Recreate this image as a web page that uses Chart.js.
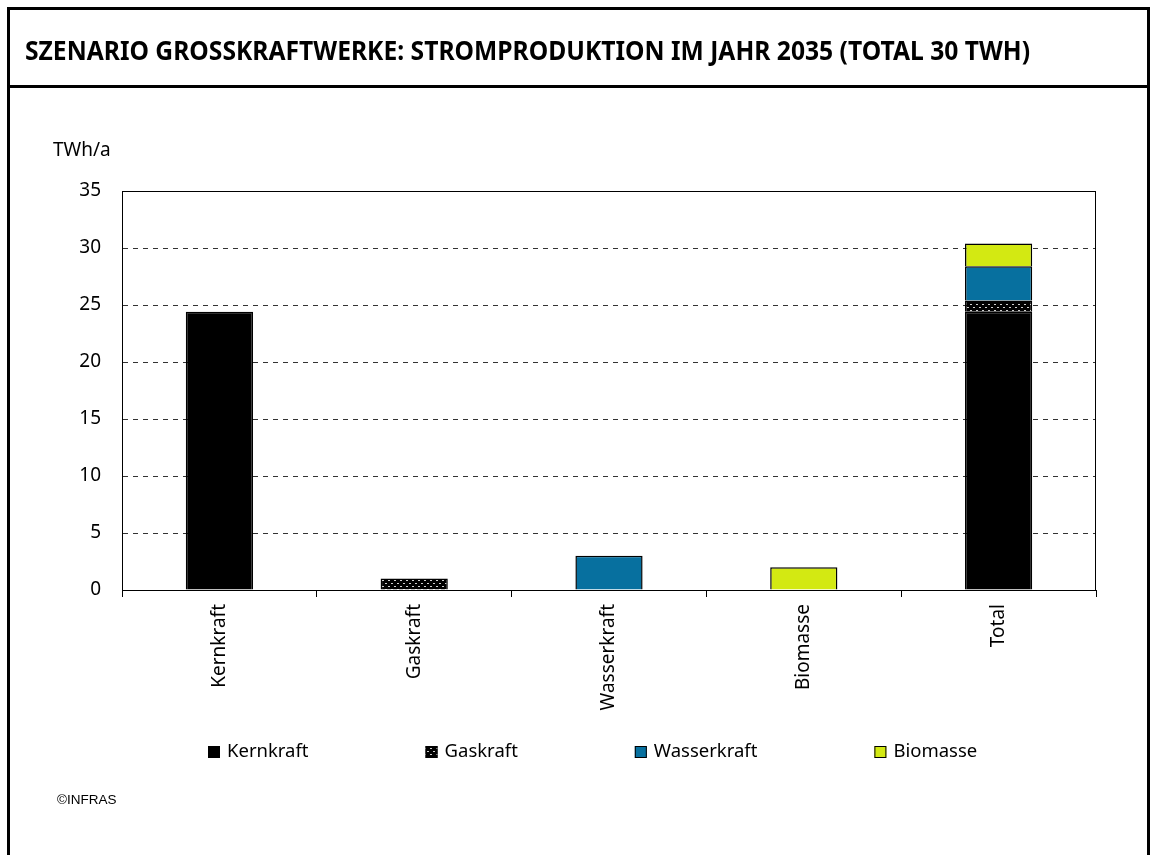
<!DOCTYPE html>
<html><head><meta charset="utf-8">
<script src="https://cdn.jsdelivr.net/npm/chart.js@4"></script>
<style>
html,body{margin:0;padding:0;background:#fff;}
body{width:1153px;height:855px;position:relative;overflow:hidden;font-family:"Noto Sans",sans-serif;}
#c{position:absolute;left:0;top:0;}
#frame{position:absolute;left:7px;top:7px;width:1137px;height:860px;border:3px solid #000;pointer-events:none;}
#divider{position:absolute;left:7px;top:85px;width:1143px;height:3px;background:#000;}
#title{position:absolute;left:25px;top:35px;font:bold 26px/30px "Noto Sans",sans-serif;white-space:nowrap;transform-origin:0 50%;display:inline-block;color:#000;}
#unit{position:absolute;left:53px;top:137px;font:19px/24px "Noto Sans",sans-serif;color:#000;}
#copy{position:absolute;left:57px;top:792px;font:13.5px/16px "Liberation Sans",Arial,sans-serif;color:#000;}
</style></head>
<body>
<canvas id="c" width="1153" height="855"></canvas>
<div id="frame"></div>
<div id="divider"></div>
<div id="title">SZENARIO GROSSKRAFTWERKE: STROMPRODUKTION IM JAHR 2035 (TOTAL 30 TWH)</div>
<div id="unit">TWh/a</div>
<div id="copy">©INFRAS</div>
<script>
const categories = ['Kernkraft', 'Gaskraft', 'Wasserkraft', 'Biomasse', 'Total'];
const seriesNames = ['Kernkraft', 'Gaskraft', 'Wasserkraft', 'Biomasse'];
const kernkraft   = [24.4, null, null, null, 24.4];
const gaskraft    = [null, 1.0, null, null, 1.0];
const wasserkraft = [null, null, 3.0, null, 3.0];
const biomasse    = [null, null, null, 2.0, 2.0];
const yMin = 0, yMax = 35, yStep = 5;

// fit title width
(function(){
  const t = document.getElementById('title');
  const w = t.getBoundingClientRect().width;
  t.style.transform = 'scaleX(' + (1005 / w) + ')';
})();

function gasPattern(){
  const c = document.createElement('canvas'); c.width = 6; c.height = 6;
  const g = c.getContext('2d');
  g.fillStyle = '#000'; g.fillRect(0,0,6,6);
  g.fillStyle = '#d0d0d0';
  g.fillRect(1,1,2,1); g.fillRect(4,4,2,1);
  return g.createPattern(c, 'repeat');
}

Chart.defaults.font.family = '"Noto Sans", sans-serif';
Chart.defaults.font.size = 19;
Chart.defaults.color = '#000';

const framePlugin = {
  id: 'frame',
  beforeDatasetsDraw(chart){
    const {ctx, chartArea:a} = chart;
    ctx.save();
    ctx.strokeStyle = '#000'; ctx.lineWidth = 1;
    ctx.strokeRect(Math.round(a.left)+0.5, Math.round(a.top)+0.5, Math.round(a.right-a.left)-1, Math.round(a.bottom-a.top));
    ctx.restore();
  }
};

const legendPlugin = {
  id: 'customLegend',
  afterDraw(chart){
    const ctx = chart.ctx;
    ctx.save();
    ctx.font = '18.5px "Noto Sans", sans-serif';
    ctx.textBaseline = 'middle';
    let x = 208; const y = 752;
    chart.data.datasets.forEach(ds => {
      ctx.fillStyle = ds.backgroundColor;
      ctx.fillRect(x, y-6, 12, 12);
      ctx.strokeStyle = '#000'; ctx.lineWidth = 1;
      ctx.strokeRect(x+0.5, y-5.5, 11, 11);
      ctx.fillStyle = '#000';
      ctx.fillText(ds.label, x + 19, y);
      x += 19 + ctx.measureText(ds.label).width + 117;
    });
    ctx.restore();
  }
};

new Chart(document.getElementById('c'), {
  type: 'bar',
  data: {
    labels: categories,
    datasets: [
      {label: seriesNames[0], data: kernkraft, backgroundColor: '#000000'},
      {label: seriesNames[1], data: gaskraft, backgroundColor: gasPattern()},
      {label: seriesNames[2], data: wasserkraft, backgroundColor: '#07709f'},
      {label: seriesNames[3], data: biomasse, backgroundColor: '#d3e912'}
    ].map(d => Object.assign(d, {borderColor: '#000', borderWidth: 1.5, categoryPercentage: 1, barPercentage: 0.345}))
  },
  options: {
    responsive: false,
    animation: false,
    layout: {padding: {top: 191, right: 57, left: 0, bottom: 0}},
    plugins: {legend: {display: false}, tooltip: {enabled: false}},
    scales: {
      x: {
        stacked: true,
        afterFit(s){ s.height = 265; },
        grid: {offset: true, drawOnChartArea: false, drawTicks: true, tickLength: 7, color: '#000', tickColor: '#000'},
        border: {color: '#000', width: 1},
        ticks: {autoSkip: false, minRotation: 90, maxRotation: 90, padding: 7, color: '#000'}
      },
      y: {
        stacked: true,
        min: yMin, max: yMax,
        afterFit(s){ s.width = 122; },
        ticks: {stepSize: yStep, padding: 21, color: '#000'},
        grid: {drawTicks: false, color: '#333', lineWidth: 1},
        border: {color: '#000', width: 1, dash: [5, 5]}
      }
    }
  },
  plugins: [framePlugin, legendPlugin]
});
</script>
</body></html>
